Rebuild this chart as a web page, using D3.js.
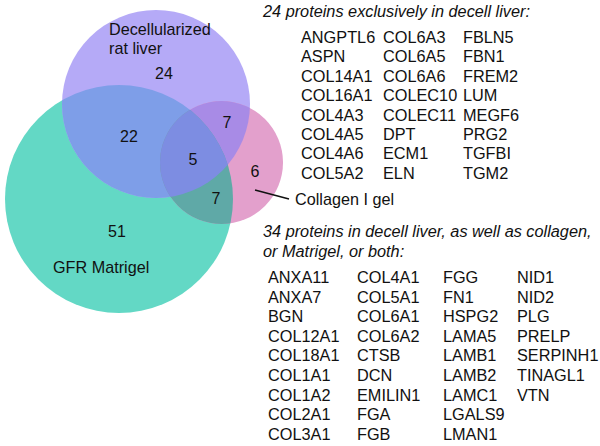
<!DOCTYPE html>
<html><head><meta charset="utf-8">
<script src="https://cdn.jsdelivr.net/npm/d3@7"></script>
<style>body{margin:0;background:#fff}svg{display:block}text{font-family:"Liberation Sans",Arial,sans-serif;fill:#111}</style>
</head><body>
<script>
// ---- data ----
const setNames = ["Decellularized rat liver", "GFR Matrigel", "Collagen I gel"];
const regionKeys = ["liver", "liver&matrigel", "liver&collagen", "all", "collagen", "matrigel&collagen", "matrigel"];
const regionCounts = [24, 22, 7, 5, 6, 7, 51];
const exclusiveTitle = "24 proteins exclusively in decell liver:";
const exclusiveProteins = ["ANGPTL6","ASPN","COL14A1","COL16A1","COL4A3","COL4A5","COL4A6","COL5A2",
  "COL6A3","COL6A5","COL6A6","COLEC10","COLEC11","DPT","ECM1","ELN",
  "FBLN5","FBN1","FREM2","LUM","MEGF6","PRG2","TGFBI","TGM2"];
const sharedTitle = ["34 proteins in decell liver, as well as collagen,", "or Matrigel, or both:"];
const sharedProteins = ["ANXA11","ANXA7","BGN","COL12A1","COL18A1","COL1A1","COL1A2","COL2A1","COL3A1",
  "COL4A1","COL5A1","COL6A1","COL6A2","CTSB","DCN","EMILIN1","FGA","FGB",
  "FGG","FN1","HSPG2","LAMA5","LAMB1","LAMB2","LAMC1","LGALS9","LMAN1",
  "NID1","NID2","PLG","PRELP","SERPINH1","TINAGL1","VTN"];

// ---- layout ----
const W = 600, H = 446;
const svg = d3.select("body").append("svg").attr("width", W).attr("height", H);
const circles = {
  liver:    {cx:156, cy:104, r:94,  fill:"#b5aaf7"},
  matrigel: {cx:119, cy:199, r:114, fill:"#63d8c5"},
  collagen: {cx:221.5, cy:162.5, r:61.5, fill:"#e3a0cc"}
};
const defs = svg.append("defs");
Object.entries(circles).forEach(([k,c]) => {
  defs.append("clipPath").attr("id","clip-"+k).append("circle").attr("cx",c.cx).attr("cy",c.cy).attr("r",c.r);
});
const g = svg.append("g");
function circ(parent, c, fill){ return parent.append("circle").attr("cx",c.cx).attr("cy",c.cy).attr("r",c.r).attr("fill",fill); }
circ(g, circles.matrigel, circles.matrigel.fill);
circ(g, circles.liver, circles.liver.fill);
circ(g, circles.collagen, circles.collagen.fill);
// pairwise intersections
circ(g.append("g").attr("clip-path","url(#clip-matrigel)"), circles.liver, "#7e9ee8");
circ(g.append("g").attr("clip-path","url(#clip-liver)"), circles.collagen, "#a88be6");
circ(g.append("g").attr("clip-path","url(#clip-matrigel)"), circles.collagen, "#5fa9a7");
// triple
circ(g.append("g").attr("clip-path","url(#clip-matrigel)").append("g").attr("clip-path","url(#clip-liver)"), circles.collagen, "#7d8de2");

const regionPos = {
  "liver":[164,79], "liver&matrigel":[129,142], "liver&collagen":[227,128], "all":[193,165],
  "collagen":[255,177], "matrigel&collagen":[216,204], "matrigel":[117,237]
};
regionKeys.forEach((k,i) => {
  g.append("text").attr("x",regionPos[k][0]).attr("y",regionPos[k][1]).attr("text-anchor","middle")
    .attr("font-size",16).text(regionCounts[i]);
});
// set labels
g.append("text").attr("x",109).attr("y",35).attr("font-size",16.2).text("Decellularized");
g.append("text").attr("x",109).attr("y",54).attr("font-size",16.2).text("rat liver");
g.append("text").attr("x",53).attr("y",273).attr("font-size",16.2).text(setNames[1]);
g.append("line").attr("x1",255).attr("y1",190).attr("x2",289).attr("y2",199).attr("stroke","#111").attr("stroke-width",1.5);
g.append("text").attr("x",295).attr("y",205).attr("font-size",16.2).text(setNames[2]);

// protein lists
const fs = 16.3;
const t = svg.append("g");
t.append("text").attr("x",263).attr("y",17).attr("font-size",fs).attr("font-style","italic").text(exclusiveTitle);
const exCols = [301, 383, 463];
exclusiveProteins.forEach((p,i) => {
  const c = Math.floor(i/8), r = i%8;
  t.append("text").attr("x",exCols[c]).attr("y",43 + r*19.4).attr("font-size",fs).text(p);
});
sharedTitle.forEach((s,i) => t.append("text").attr("x",263).attr("y",237 + i*20).attr("font-size",fs).attr("font-style","italic").text(s));
const shCols = [268, 357, 443, 517];
sharedProteins.forEach((p,i) => {
  const c = Math.floor(i/9), r = i%9;
  t.append("text").attr("x",shCols[c]).attr("y",283 + r*19.6).attr("font-size",fs).text(p);
});
</script>
</body></html>
